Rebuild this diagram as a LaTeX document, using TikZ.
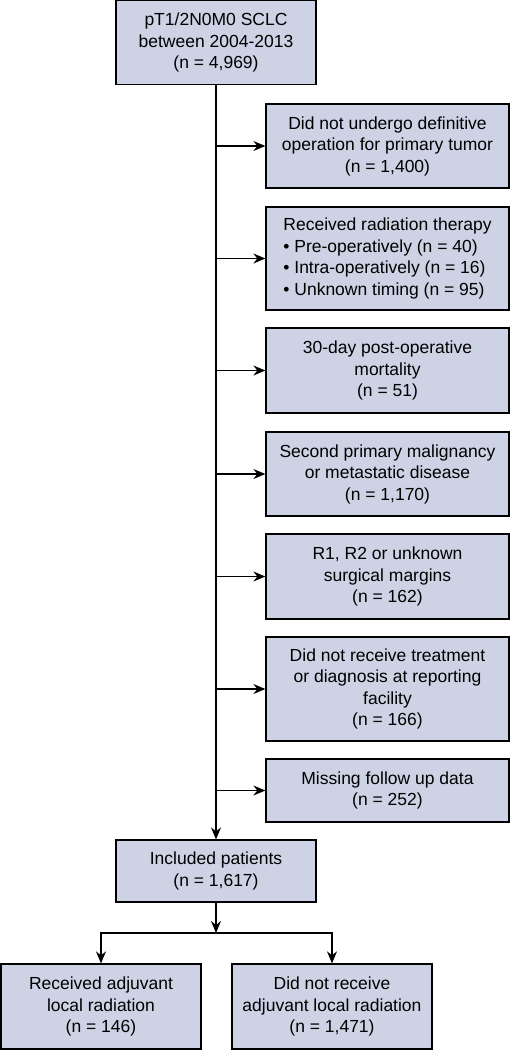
\documentclass[tikz,border=0pt]{standalone}
\usepackage{fontspec}
\setmainfont{Liberation Sans}
\usetikzlibrary{arrows.meta}
\definecolor{boxfill}{RGB}{205,211,229}
\tikzset{
    box/.style={draw, line width=1.3pt, fill=boxfill, align=center, inner sep=0pt},
    flow/.style={line width=1.2pt, -{Stealth[length=12pt,width=10pt,inset=4pt]}}
}
\begin{document}
\begin{tikzpicture}[x=1pt, y=-1pt, font=\fontsize{17.5}{21.5}\selectfont]
    \useasboundingbox (0,0) rectangle (510,1050);

    \node[box, minimum width=200pt, minimum height=84pt] (top) at (216,42.5)
        {pT1/2N0M0 SCLC\\between 2004-2013\\(n = 4,969)};

    % exclusions
    \node[box, minimum width=243pt, minimum height=84pt] (ex1) at (387.5,146)
        {Did not undergo definitive\\operation for primary tumor\\(n = 1,400)};
    \node[box, minimum width=243pt, minimum height=103pt, align=left] (ex2) at (387.5,258.5)
        {Received radiation therapy\\\textbullet{} Pre-operatively (n = 40)\\\textbullet{} Intra-operatively (n = 16)\\\textbullet{} Unknown timing (n = 95)};
    \node[box, minimum width=243pt, minimum height=85pt] (ex3) at (387.5,370.5)
        {30-day post-operative\\mortality\\(n = 51)};
    \node[box, minimum width=243pt, minimum height=84pt] (ex4) at (387.5,474)
        {Second primary malignancy\\or metastatic disease\\(n = 1,170)};
    \node[box, minimum width=243pt, minimum height=85pt] (ex5) at (387.5,576.5)
        {R1, R2 or unknown\\surgical margins\\(n = 162)};
    \node[box, minimum width=243pt, minimum height=104pt] (ex6) at (387.5,689)
        {Did not receive treatment\\or diagnosis at reporting\\facility\\(n = 166)};
    \node[box, minimum width=243pt, minimum height=63pt] (ex7) at (387.5,790.5)
        {Missing follow up data\\(n = 252)};

    \node[box, minimum width=200pt, minimum height=62pt] (incl) at (216,871)
        {Included patients\\(n = 1,617)};

    \node[box, minimum width=200pt, minimum height=85pt] (recv) at (101,1006.5)
        {Received adjuvant\\local radiation\\(n = 146)};
    \node[box, minimum width=200pt, minimum height=85pt] (norecv) at (332,1006.5)
        {Did not receive\\adjuvant local radiation\\(n = 1,471)};

    \draw[flow] (top.south) -- (incl.north);
    \foreach \i in {1,...,7}
    {
        \draw[flow] (top.south |- ex\i.west) -- (ex\i.west);
    }

    \coordinate (split) at (216,933);
    \draw[flow] (incl.south) -- (split);
    \draw[flow] (split) -| (recv.north);
    \draw[flow] (split) -| (norecv.north);
\end{tikzpicture}
\end{document}
